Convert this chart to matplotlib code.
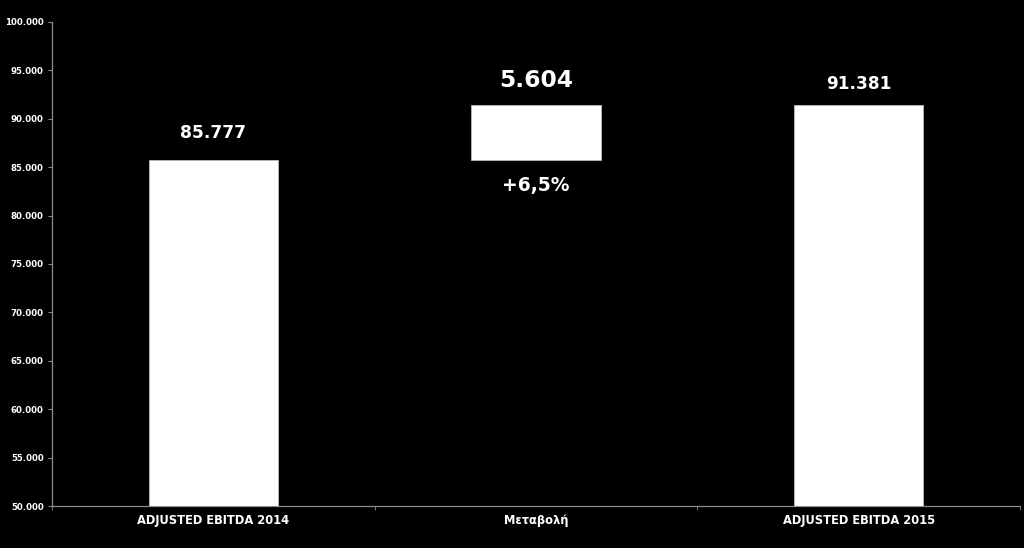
import matplotlib
matplotlib.use("Agg")
import matplotlib.pyplot as plt
from matplotlib.ticker import FuncFormatter, FixedLocator

# ── data ─────────────────────────────────────────────────────────────────────
categories = ["ADJUSTED EBITDA 2014", "Μεταβολή", "ADJUSTED EBITDA 2015"]
ebitda_2014 = 85777
change = 5604
ebitda_2015 = 91381
change_pct = "+6,5%"

bar_bottoms = [50000, ebitda_2014, 50000]
bar_tops = [ebitda_2014, ebitda_2014 + change, ebitda_2015]
value_labels = ["85.777", "5.604", "91.381"]

AXIS_C = "#8c8c8c"

fig = plt.figure(figsize=(10.24, 5.48), dpi=100, facecolor="black")
ax = fig.add_axes([0.0508, 0.0766, 0.9453, 0.8833], facecolor="black")

x = list(range(len(categories)))
heights = [t - b for t, b in zip(bar_tops, bar_bottoms)]
ax.bar(x, heights, bottom=bar_bottoms, width=0.4, color="white",
       edgecolor="#bbbbbb", linewidth=0.6, zorder=3)

# value labels
ax.text(0, bar_tops[0] + 2800, value_labels[0], color="white", fontsize=12.3,
        fontweight="bold", ha="center", va="center")
ax.text(1, bar_tops[1] + 2600, value_labels[1], color="white", fontsize=16.8,
        fontweight="bold", ha="center", va="center")
ax.text(2, bar_tops[2] + 2200, value_labels[2], color="white", fontsize=12.2,
        fontweight="bold", ha="center", va="center")
ax.text(1, bar_bottoms[1] - 2700, change_pct, color="white", fontsize=13.5,
        fontweight="bold", ha="center", va="center")

ax.set_xlim(-0.5, 2.5)
ax.set_ylim(50000, 100000)
ax.set_yticks(range(50000, 100001, 5000))
ax.yaxis.set_major_formatter(FuncFormatter(lambda v, p: f"{int(v):,}".replace(",", ".")))

ax.set_xticks(x)
ax.set_xticklabels(categories)
ax.xaxis.set_minor_locator(FixedLocator([-0.5, 0.5, 1.5, 2.5]))
ax.tick_params(axis="x", which="major", length=0, pad=5.5, labelsize=8.3,
               labelcolor="white")
ax.tick_params(axis="x", which="minor", length=3, color=AXIS_C, direction="out")
ax.tick_params(axis="y", length=3, color=AXIS_C, labelsize=6.2, labelcolor="white", pad=3)
for lbl in ax.get_xticklabels() + ax.get_yticklabels():
    lbl.set_fontweight("bold")

for side in ("top", "right"):
    ax.spines[side].set_visible(False)
for side in ("left", "bottom"):
    ax.spines[side].set_color(AXIS_C)
    ax.spines[side].set_linewidth(0.9)

fig.savefig("out.png", dpi=100, facecolor="black")
